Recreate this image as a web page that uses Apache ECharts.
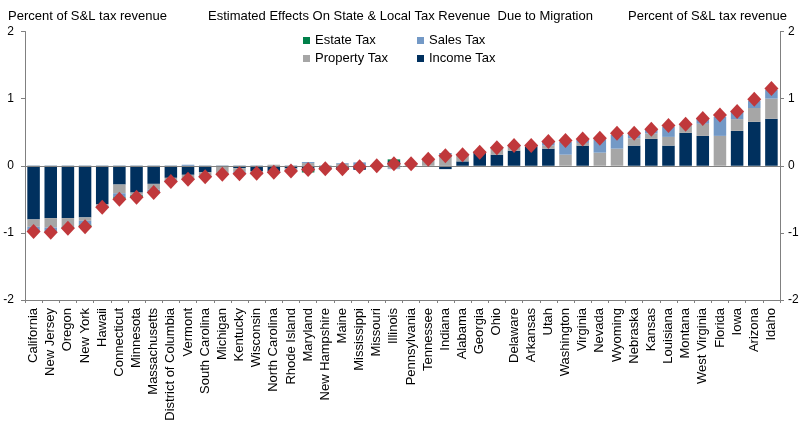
<!DOCTYPE html>
<html>
<head>
<meta charset="utf-8">
<title>Estimated Effects On State & Local Tax Revenue Due to Migration</title>
<script src="https://cdn.jsdelivr.net/npm/echarts@6/dist/echarts.min.js"></script>
<style>
    html, body { margin: 0; padding: 0; background: #fff; }
    #chart { width: 802px; height: 427px; }
</style>
</head>
<body>
<div id="chart"></div>
<script>
// ==========================
// data
// ==========================
var states = ['California', 'New Jersey', 'Oregon', 'New York', 'Hawaii', 'Connecticut', 'Minnesota',
    'Massachusetts', 'District of Columbia', 'Vermont', 'South Carolina', 'Michigan', 'Kentucky',
    'Wisconsin', 'North Carolina', 'Rhode Island', 'Maryland', 'New Hampshire', 'Maine', 'Mississippi',
    'Missouri', 'Illinois', 'Pennsylvania', 'Tennessee', 'Indiana', 'Alabama', 'Georgia', 'Ohio',
    'Delaware', 'Arkansas', 'Utah', 'Washington', 'Virginia', 'Nevada', 'Wyoming', 'Nebraska',
    'Kansas', 'Louisiana', 'Montana', 'West Virginia', 'Florida', 'Iowa', 'Arizona', 'Idaho'];

var incomeTax = [-0.80, -0.78, -0.78, -0.77, -0.57, -0.28, -0.40, -0.27, -0.18, -0.135, -0.095,
    -0.01, -0.035, -0.085, -0.085, -0.04, -0.08, -0.03, -0.06, -0.06, -0.01, 0.07, 0, 0, -0.05,
    0.065, 0.21, 0.165, 0.225, 0.29, 0.255, 0, 0.30, 0, 0, 0.30, 0.40, 0.30, 0.49, 0.445, 0,
    0.52, 0.655, 0.70];

var propertyTax = [-0.11, -0.14, -0.12, -0.05, -0.02, -0.13, -0.03, -0.085, -0.03, -0.065, -0.05,
    -0.11, -0.05, -0.035, 0.015, -0.02, 0.04, -0.015, 0.03, 0, 0.01, -0.04, 0.03, 0.09, 0.17,
    0.085, 0, 0.10, 0.055, 0.01, 0.045, 0.165, 0.04, 0.195, 0.255, 0.11, 0.08, 0.13, 0.11, 0.18,
    0.445, 0.175, 0.205, 0.30];

var salesTax = [-0.07, -0.07, -0.01, -0.06, -0.02, -0.06, -0.01, -0.045, -0.02, 0.015, -0.015,
    -0.005, -0.02, -0.01, -0.02, -0.01, 0.015, -0.01, 0.01, 0.05, 0, -0.01, 0, 0, 0.02, 0.015,
    0, 0.015, 0.02, 0, 0.06, 0.19, 0.05, 0.20, 0.205, 0.075, 0.055, 0.15, 0.02, 0.08, 0.285,
    0.11, 0.11, 0.13];

var estateTax = [0, 0, -0.02, -0.025, -0.01, -0.02, -0.03, 0, 0, -0.005, 0, 0, 0, 0, 0, 0, -0.02,
    0, 0, 0, 0, 0.025, 0, 0, 0, 0, 0, 0, 0, 0, 0, 0, 0, 0, 0, 0, 0, 0, 0, 0, 0, 0, 0, 0];

var totalEffect = [-0.98, -0.99, -0.93, -0.91, -0.62, -0.50, -0.47, -0.40, -0.235, -0.20, -0.165,
    -0.125, -0.12, -0.11, -0.095, -0.08, -0.055, -0.045, -0.045, -0.015, 0, 0.03, 0.03, 0.095,
    0.15, 0.165, 0.20, 0.27, 0.30, 0.30, 0.36, 0.375, 0.40, 0.41, 0.485, 0.485, 0.545, 0.60,
    0.62, 0.705, 0.755, 0.81, 0.99, 1.15];

var yTicks = [-2, -1, 0, 1, 2];

// ==========================
// chart
// ==========================
var font = 'Liberation Sans, Arial, sans-serif';
var axisGray = '#808080';
var chart = echarts.init(document.getElementById('chart'));

function barSeries(name, data, color) {
    return {
        name: name,
        type: 'bar',
        stack: 'tax',
        data: data,
        barCategoryGap: '27%',
        itemStyle: { color: color },
        emphasis: { disabled: true }
    };
}

function yAxis(pos, margin) {
    return {
        type: 'value',
        position: pos,
        min: yTicks[0],
        max: yTicks[yTicks.length - 1],
        interval: 1,
        axisLine: { show: true, lineStyle: { color: axisGray } },
        axisTick: { show: true, length: 4, lineStyle: { color: axisGray } },
        axisLabel: { color: '#000', fontSize: 12, fontFamily: font, margin: margin },
        splitLine: { show: false }
    };
}

var legendText = { color: '#000', fontSize: 13, fontFamily: font };

var income = barSeries('Income Tax', incomeTax, '#00305E');
// zero line across the plot
income.markLine = {
    silent: true,
    symbol: 'none',
    label: { show: false },
    lineStyle: { color: axisGray, type: 'solid', width: 1 },
    data: [{ yAxis: 0 }]
};

var option = {
    animation: false,
    textStyle: { fontFamily: font },
    title: [
        { text: 'Percent of S&L tax revenue', left: 3, top: 5,
          textStyle: { fontSize: 13, fontWeight: 'normal', color: '#000' } },
        { text: 'Estimated Effects On State & Local Tax Revenue  Due to Migration', left: 203, top: 5,
          textStyle: { fontSize: 13, fontWeight: 'normal', color: '#000' } },
        { text: 'Percent of S&L tax revenue', right: 10, top: 5,
          textStyle: { fontSize: 13, fontWeight: 'normal', color: '#000' } }
    ],
    legend: [
        { data: ['Estate Tax', 'Property Tax'], orient: 'vertical', left: 298, top: 29,
          icon: 'rect', itemWidth: 7, itemHeight: 7, itemGap: 5, selectedMode: false,
          textStyle: legendText },
        { data: ['Sales Tax', 'Income Tax'], orient: 'vertical', left: 412, top: 29,
          icon: 'rect', itemWidth: 7, itemHeight: 7, itemGap: 5, selectedMode: false,
          textStyle: legendText }
    ],
    grid: { left: 25, right: 22, top: 31.5, bottom: 127, containLabel: false },
    xAxis: {
        type: 'category',
        data: states,
        axisLine: { show: true, onZero: false, lineStyle: { color: axisGray } },
        axisTick: { show: true, length: 3, lineStyle: { color: axisGray } },
        axisLabel: { rotate: 90, interval: 0, color: '#000', fontSize: 13, fontFamily: font, margin: 8 }
    },
    yAxis: [yAxis('left', 11), yAxis('right', 8)],
    series: [
        income,
        barSeries('Property Tax', propertyTax, '#A6A6A6'),
        barSeries('Sales Tax', salesTax, '#7399C6'),
        barSeries('Estate Tax', estateTax, '#00804A'),
        {
            name: 'Total',
            type: 'scatter',
            data: totalEffect,
            symbol: 'diamond',
            symbolSize: [14, 15],
            z: 5,
            itemStyle: { color: '#C0383B', opacity: 1 },
            emphasis: { disabled: true }
        }
    ]
};

chart.setOption(option);
</script>
</body>
</html>
